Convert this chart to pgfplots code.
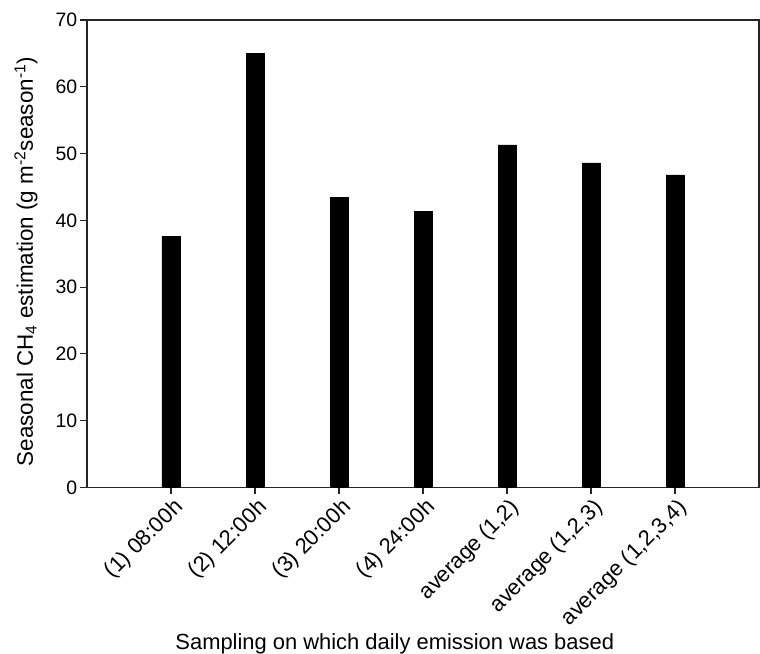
\documentclass[border=0pt]{standalone}
\usepackage{pgfplots}
\pgfplotsset{compat=1.18}
\usepackage{fontspec}
\setmainfont{Liberation Sans}
\begin{document}
\begin{tikzpicture}
\useasboundingbox (0,0) rectangle (760bp,654bp);
\begin{axis}[
  at={(87bp,166.5bp)}, anchor=south west,
  scale only axis,
  width=672bp, height=467.5bp,
  xmin=-1, xmax=7,
  ymin=0, ymax=70,
  ytick={0,10,...,70},
  xtick={0,...,6},
  xticklabels={(1) 08:00h,(2) 12:00h,(3) 20:00h,(4) 24:00h,{average (1,2)},{average (1,2,3)},{average (1,2,3,4)}},
  xtick pos=left, ytick pos=left,
  tick align=outside,
  major tick length=6.5bp,
  axis line style={line width=1.1pt, black!85},
  tick style={line width=1.1pt, black!85},
  /pgf/number format/assume math mode=true,
  yticklabel style={font=\fontsize{19.5}{22}\selectfont, inner sep=1bp, xshift=-2bp},
  xticklabel style={font=\fontsize{22}{25}\selectfont, rotate=45, anchor=north east, inner sep=1bp, yshift=-2bp},
  xlabel={Sampling on which daily emission was based},
  ylabel={Seasonal CH\textsubscript{4} estimation (g m\textsuperscript{-2}season\textsuperscript{-1})},
  xlabel style={font=\fontsize{22}{26}\selectfont, at={(axis description cs:0.458,-0.3455)}, anchor=base},
  ylabel style={font=\fontsize{22.5}{26}\selectfont, at={(axis description cs:-0.0804,0.483)}, anchor=base},
  ybar, bar width=18bp,
]
\addplot[fill=black, draw=black] coordinates {(0,37.6) (1,65.0) (2,43.4) (3,41.3) (4,51.3) (5,48.6) (6,46.8)};
\end{axis}
\end{tikzpicture}
\end{document}
